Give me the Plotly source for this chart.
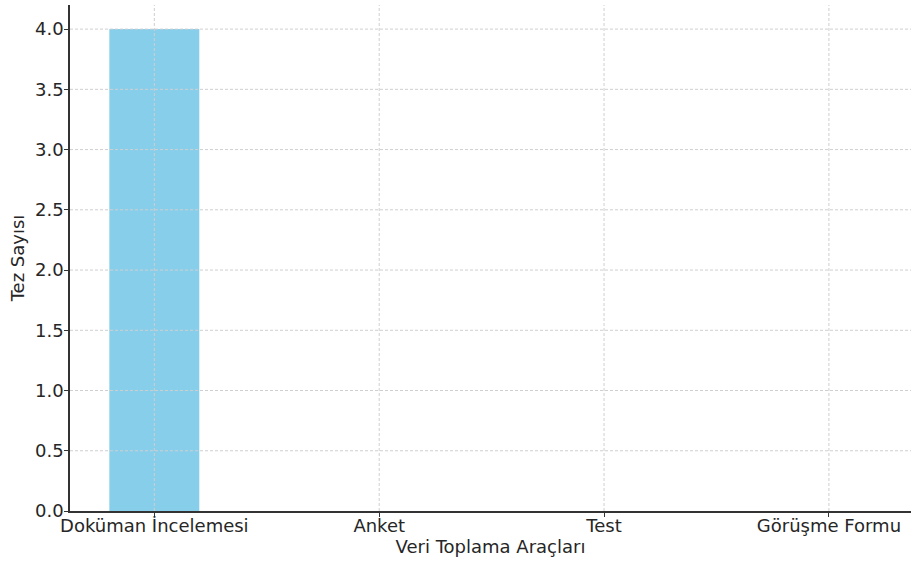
import plotly.graph_objects as go

categories = ["Doküman İncelemesi", "Anket", "Test", "Görüşme Formu"]
values = [4, 0, 0, 0]
y_ticks = [0.0, 0.5, 1.0, 1.5, 2.0, 2.5, 3.0, 3.5, 4.0]

fig = go.Figure(go.Bar(x=categories, y=values, marker_color="#87CEEB", width=0.4, marker_line_width=0))

font = dict(family="DejaVu Sans", size=18, color="#262626")
grid = dict(color="#cfcfcf", width=1, dash="3px,2px")

# grid lines drawn above the bar, as in the reference
for c in categories:
    fig.add_shape(type="line", xref="x", yref="paper", x0=c, x1=c, y0=0, y1=1,
                  line=grid, layer="above")
for v in y_ticks[1:]:
    fig.add_shape(type="line", xref="paper", yref="y", x0=0, x1=1, y0=v, y1=v,
                  line=grid, layer="above")

fig.update_layout(
    width=911, height=563,
    margin=dict(l=70, r=0, t=5, b=52),
    plot_bgcolor="white", paper_bgcolor="white",
    font=font,
    showlegend=False,
)
fig.update_xaxes(
    range=[-0.375, 3.365], automargin=False,
    showline=True, linecolor="#333333", linewidth=1.5,
    ticks="outside", ticklen=4, tickcolor="#333333",
    ticklabelstandoff=-6,
    showgrid=False,
    layer="above traces",
    title=dict(text="Veri Toplama Araçları", font=font, standoff=2),
)
fig.update_yaxes(
    range=[0, 4.2], automargin=False,
    tickvals=y_ticks, ticktext=[f"{v:.1f}" for v in y_ticks],
    showline=True, linecolor="#333333", linewidth=1.5,
    ticks="outside", ticklen=4, tickcolor="#333333",
    ticklabelstandoff=-3,
    showgrid=False, zeroline=False,
    layer="above traces",
    title=dict(text="Tez Sayısı", font=font, standoff=6),
)

fig.write_html("out.html", config={"displayModeBar": False},
               post_script="document.body.style.margin='0px';")
